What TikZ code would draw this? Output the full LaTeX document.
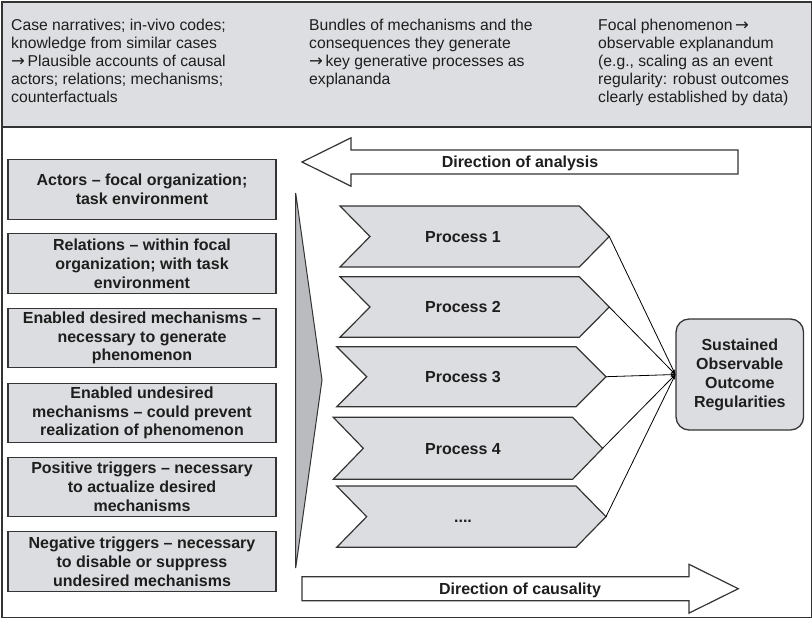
\documentclass[tikz,border=0pt]{standalone}
\usepackage{fontspec}
\setmainfont{Liberation Sans}
\newfontfamily\arrowglyphs{DejaVu Sans}
\usetikzlibrary{arrows.meta}

\definecolor{panelgrey}{RGB}{221,222,225}
\definecolor{boxgrey}{RGB}{220,221,224}
\definecolor{wedgegrey}{RGB}{186,187,191}
\definecolor{edge}{RGB}{52,52,52}
\definecolor{ink}{RGB}{30,30,30}

% right arrow used inside the header notes
\newcommand{\toarrow}{{\arrowglyphs\fontsize{16.5}{16}\selectfont →}}

% One process chevron: name, left x, top y, height, label
\newcommand{\processchevron}[5]{%
  \draw[chevron] (#2,#3) -- ({#2+239.3},#3) -- ({#2+269.3},{#3+#4/2})
    -- ({#2+239.3},{#3+#4}) -- (#2,{#3+#4}) -- ({#2+30},{#3+#4/2}) -- cycle;
  \coordinate (#1tip) at ({#2+269.3},{#3+#4/2});
  \node[proclabel] (#1) at (463,{#3+#4/2+5.7}) {#5};
}

\begin{document}
\begin{tikzpicture}[x=1pt,y=-1pt,
  frame/.style={draw=edge, line width=1.4pt},
  coltext/.style={anchor=north west, inner sep=0pt, align=left, text=ink,
    font=\fontsize{15.7}{18}\selectfont},
  factor/.style={draw=edge, line width=1.3pt, fill=boxgrey, text=ink,
    minimum width=268pt, minimum height=59.5pt, inner sep=0pt, align=center,
    font=\bfseries\fontsize{16}{18.8}\selectfont},
  chevron/.style={draw=edge, line width=1.2pt, fill=boxgrey, line join=miter},
  proclabel/.style={anchor=base, inner sep=0pt, text=ink,
    font=\bfseries\fontsize{16}{18}\selectfont},
  outcomebox/.style={draw=edge, line width=1.3pt, fill=boxgrey, text=ink,
    rounded corners=13pt, minimum width=127.5pt, minimum height=111pt,
    inner sep=0pt, align=center, font=\bfseries\fontsize{16}{19}\selectfont},
  flowarrow/.style={draw=edge, line width=1.2pt, fill=white, line join=miter},
  arrowlabel/.style={anchor=base, inner sep=0pt, text=ink,
    font=\bfseries\fontsize{16}{18}\selectfont},
  wedge/.style={draw=edge, line width=1pt, fill=wedgegrey, line join=miter},
  link/.style={draw=black, line width=0.8pt, -{Stealth[length=5pt,width=3.5pt]}}
]
\useasboundingbox (0,0) rectangle (812,619);

% header band with the three column notes
\fill[panelgrey] (2,2) rectangle (812,127);
\draw[frame] (2,2) rectangle (811.5,617.5);
\draw[frame] (2,127) -- (812,127);

\node[coltext] (notesA) at (11,19) {Case narratives; in-vivo codes;\\
  knowledge from similar cases\\
  \toarrow\,Plausible accounts of causal\\
  actors; relations; mechanisms;\\
  counterfactuals};
\node[coltext] (notesB) at (309,19) {Bundles of mechanisms and the\\
  consequences they generate\\
  \toarrow\,key generative processes as\\
  explananda};
\node[coltext] (notesC) at (598,19) {Focal phenomenon\,\toarrow\\
  observable explanandum\\
  (e.g., scaling as an event\\
  regularity: robust outcomes\\
  clearly established by data)};

% causal factors
\node[factor] (actors)    at (142,189.5) {Actors -- focal organization;\\ task environment};
\node[factor] (relations) at (142,263.5) {Relations -- within focal\\ organization; with task\\ environment};
\node[factor] (desired)   at (142,338)   {Enabled desired mechanisms --\\ necessary to generate\\ phenomenon};
\node[factor] (undesired) at (142,413)   {Enabled undesired\\ mechanisms -- could prevent\\ realization of phenomenon};
\node[factor] (postrig)   at (142,487)   {Positive triggers -- necessary\\ to actualize desired\\ mechanisms};
\node[factor] (negtrig)   at (142,561.5) {Negative triggers -- necessary\\ to disable or suppress\\ undesired mechanisms};

% wedge feeding the processes
\draw[wedge] (295.7,193) -- (322,380) -- (295.7,568) -- cycle;

% direction arrows
\draw[flowarrow] (302,162) -- (351,137.8) -- (351,150) -- (738,150)
  -- (738,174) -- (351,174) -- (351,186.2) -- cycle;
\node[arrowlabel] (analysis) at (520,167.7) {Direction of analysis};

\draw[flowarrow] (302,576.7) -- (689,576.7) -- (689,564.3) -- (738.3,588.7)
  -- (689,613.1) -- (689,600.7) -- (302,600.7) -- cycle;
\node[arrowlabel] (causality) at (520,594.4) {Direction of causality};

% generative processes
\processchevron{p1}{340}{206}{61}{Process 1}
\processchevron{p2}{340}{276.7}{60.6}{Process 2}
\processchevron{p3}{336.7}{346.7}{60}{Process 3}
\processchevron{p4}{333.3}{417.3}{62}{Process 4}
\processchevron{p5}{336.7}{486}{61.3}{....}

% outcome
\node[outcomebox] (outcome) at (739.8,374.5) {Sustained\\ Observable\\ Outcome\\ Regularities};

\foreach \p in {p1,p2,p3,p4,p5}
  \draw[link] (\p tip) -- (outcome.west);
\end{tikzpicture}
\end{document}
